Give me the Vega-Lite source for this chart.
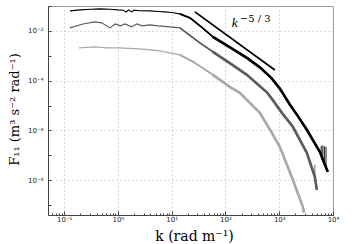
{
  "$schema": "https://vega.github.io/schema/vega-lite/v6.json",
  "width": 285,
  "height": 209,
  "autosize": {"type": "none"},
  "padding": {"left": 48, "top": 6, "right": 21, "bottom": 29},
  "background": "white",
  "config": {
    "view": {"stroke": "#9a9a9a", "strokeWidth": 1},
    "axis": {
      "labelFont": "DejaVu Sans",
      "labelFontSize": 7,
      "labelColor": "#222",
      "titleFont": "DejaVu Serif",
      "titleFontSize": 13,
      "titleFontWeight": "normal",
      "titleColor": "#000",
      "domainColor": "#444",
      "tickColor": "#444",
      "gridColor": "#b5b5b5",
      "gridDash": [1, 3],
      "gridWidth": 1
    }
  },
  "datasets": {
    "spectra": [
      {"series": "a", "k": 0.128, "F": 0.0635},
      {"series": "a", "k": 0.197, "F": 0.0697},
      {"series": "a", "k": 0.316, "F": 0.0741},
      {"series": "a", "k": 0.462, "F": 0.0766},
      {"series": "a", "k": 0.708, "F": 0.074},
      {"series": "a", "k": 1.0, "F": 0.0697},
      {"series": "a", "k": 1.26, "F": 0.068},
      {"series": "a", "k": 1.41, "F": 0.0575},
      {"series": "a", "k": 1.58, "F": 0.0697},
      {"series": "a", "k": 1.78, "F": 0.058},
      {"series": "a", "k": 2.0, "F": 0.068},
      {"series": "a", "k": 2.51, "F": 0.064},
      {"series": "a", "k": 3.94, "F": 0.0635},
      {"series": "a", "k": 5.62, "F": 0.06},
      {"series": "a", "k": 7.48, "F": 0.058},
      {"series": "a", "k": 10.0, "F": 0.055},
      {"series": "a", "k": 14.2, "F": 0.0482},
      {"series": "a", "k": 21.8, "F": 0.0333},
      {"series": "a", "k": 35.5, "F": 0.0145},
      {"series": "a", "k": 58.3, "F": 0.00574},
      {"series": "a", "k": 126, "F": 0.00207},
      {"series": "a", "k": 250, "F": 0.000824},
      {"series": "a", "k": 436, "F": 0.000342},
      {"series": "a", "k": 719, "F": 0.000126},
      {"series": "a", "k": 1026, "F": 0.000048},
      {"series": "a", "k": 1574, "F": 0.000011},
      {"series": "a", "k": 2239, "F": 0.00000368},
      {"series": "a", "k": 3258, "F": 0.00000106},
      {"series": "a", "k": 4200, "F": 0.00000042},
      {"series": "a", "k": 5689, "F": 0.000000138},
      {"series": "a", "k": 7000, "F": 0.000000044},
      {"series": "a", "k": 8000, "F": 0.0000000217},
      {"series": "b", "k": 0.128, "F": 0.0132},
      {"series": "b", "k": 0.224, "F": 0.019},
      {"series": "b", "k": 0.373, "F": 0.023},
      {"series": "b", "k": 0.5, "F": 0.021},
      {"series": "b", "k": 0.71, "F": 0.0132},
      {"series": "b", "k": 0.89, "F": 0.019},
      {"series": "b", "k": 1.12, "F": 0.0159},
      {"series": "b", "k": 1.35, "F": 0.0191},
      {"series": "b", "k": 1.78, "F": 0.0145},
      {"series": "b", "k": 2.24, "F": 0.019},
      {"series": "b", "k": 2.82, "F": 0.0159},
      {"series": "b", "k": 3.94, "F": 0.0174},
      {"series": "b", "k": 5.62, "F": 0.0159},
      {"series": "b", "k": 9.27, "F": 0.0145},
      {"series": "b", "k": 14.2, "F": 0.0132},
      {"series": "b", "k": 22.4, "F": 0.0063},
      {"series": "b", "k": 33.4, "F": 0.0033},
      {"series": "b", "k": 58.3, "F": 0.00144},
      {"series": "b", "k": 126, "F": 0.000473},
      {"series": "b", "k": 250, "F": 0.000171},
      {"series": "b", "k": 589, "F": 0.000034},
      {"series": "b", "k": 760, "F": 0.0000165},
      {"series": "b", "k": 1122, "F": 0.00000509},
      {"series": "b", "k": 1791, "F": 0.0000014},
      {"series": "b", "k": 3258, "F": 0.000000126},
      {"series": "b", "k": 4592, "F": 0.0000000137},
      {"series": "b", "k": 5000, "F": 0.0000000041},
      {"series": "c", "k": 0.188, "F": 0.00207},
      {"series": "c", "k": 0.373, "F": 0.00228},
      {"series": "c", "k": 0.63, "F": 0.00207},
      {"series": "c", "k": 1.0, "F": 0.00207},
      {"series": "c", "k": 1.58, "F": 0.00198},
      {"series": "c", "k": 2.56, "F": 0.00189},
      {"series": "c", "k": 3.98, "F": 0.00173},
      {"series": "c", "k": 6.04, "F": 0.00157},
      {"series": "c", "k": 9.27, "F": 0.00131},
      {"series": "c", "k": 14.2, "F": 0.00109},
      {"series": "c", "k": 25.1, "F": 0.000569},
      {"series": "c", "k": 58.3, "F": 0.000171},
      {"series": "c", "k": 120, "F": 0.0000564},
      {"series": "c", "k": 185, "F": 0.0000324},
      {"series": "c", "k": 436, "F": 0.00000509},
      {"series": "c", "k": 660, "F": 0.00000116},
      {"series": "c", "k": 1026, "F": 0.000000219},
      {"series": "c", "k": 1791, "F": 0.0000000104},
      {"series": "c", "k": 2748, "F": 0.000000000855},
      {"series": "c", "k": 2884, "F": 0.0000000005}
    ],
    "noise": [
      {"series": "a", "k": 6030, "lo": 0.0000001, "hi": 0.00000024},
      {"series": "a", "k": 6460, "lo": 0.000000069, "hi": 0.00000025},
      {"series": "a", "k": 6920, "lo": 0.000000048, "hi": 0.00000023},
      {"series": "a", "k": 7410, "lo": 0.000000033, "hi": 0.00000022},
      {"series": "b", "k": 4600, "lo": 0.000000014, "hi": 0.000000042}
    ],
    "ref": [
      {"k": 27, "F": 0.058},
      {"k": 828, "F": 0.00027}
    ],
    "label": [
      {"k": 131.5, "F": 0.0145, "base": "k", "sup": "−5  /  3"}
    ]
  },
  "layer": [
    {
      "data": {"name": "spectra"},
      "mark": {"type": "line", "strokeWidth": 1.1, "clip": true},
      "encoding": {
        "x": {
          "field": "k", "type": "quantitative",
          "scale": {"type": "log", "domain": [0.05, 10000], "nice": false},
          "axis": {
            "title": "k  (rad m⁻¹)",
            "titleFontSize": 14,
            "values": [0.05,0.06,0.07,0.08,0.09,0.1,0.2,0.3,0.4,0.5,0.6,0.7,0.8,0.9,1,2,3,4,5,6,7,8,9,10,20,30,40,50,60,70,80,90,100,200,300,400,500,600,700,800,900,1000,2000,3000,4000,5000,6000,7000,8000,9000,10000],
            "labelExpr": "abs(log(datum.value)/LN10 - round(log(datum.value)/LN10)) < 0.01 ? ('10' + (round(log(datum.value)/LN10) == -1 ? '⁻¹' : round(log(datum.value)/LN10) == 0 ? '⁰' : round(log(datum.value)/LN10) == 1 ? '¹' : round(log(datum.value)/LN10) == 2 ? '²' : round(log(datum.value)/LN10) == 3 ? '³' : '⁴')) : ''",
            "labelPadding": 4,
            "labelFlush": false,
            "tickSize": {"condition": {"test": "abs(log(datum.value)/LN10 - round(log(datum.value)/LN10)) < 0.01", "value": -4}, "value": -2},
            "gridOpacity": {"condition": {"test": "abs(log(datum.value)/LN10 - round(log(datum.value)/LN10)) < 0.01", "value": 1}, "value": 0},
            "titleX": 146,
            "titleY": 21,
            "titleBaseline": "middle",
            "titleAlign": "center"
          }
        },
        "y": {
          "field": "F", "type": "quantitative",
          "scale": {"type": "log", "domain": [0.0000000004, 0.1], "nice": false},
          "axis": {
            "title": "F₁₁ (m³ s⁻² rad⁻¹)",
            "values": [0.000000001,0.00000001,0.0000001,0.000001,0.00001,0.0001,0.001,0.01,0.1],
            "labelExpr": "round(log(datum.value)/LN10) == -2 ? '10⁻²' : round(log(datum.value)/LN10) == -4 ? '10⁻⁴' : round(log(datum.value)/LN10) == -6 ? '10⁻⁶' : round(log(datum.value)/LN10) == -8 ? '10⁻⁸' : ''",
            "labelPadding": 8,
            "tickSize": -3,
            "gridOpacity": {"condition": {"test": "round(log(datum.value)/LN10) % 2 == 0", "value": 1}, "value": 0},
            "titleX": -34,
            "titleY": 103,
            "titleAngle": -90,
            "titleBaseline": "middle",
            "titleAlign": "center"
          }
        },
        "detail": {"field": "series"},
        "color": {
          "field": "series", "type": "nominal",
          "scale": {"domain": ["a", "b", "c"], "range": ["#000000", "#5c5c5c", "#a9a9a9"]},
          "legend": null
        }
      }
    },
    {
      "data": {"name": "spectra"},
      "transform": [{"filter": "datum.k >= 14"}],
      "mark": {"type": "line", "strokeWidth": 1.8, "clip": true},
      "encoding": {
        "x": {"field": "k", "type": "quantitative"},
        "y": {"field": "F", "type": "quantitative"},
        "color": {"field": "series", "type": "nominal", "legend": null}
      }
    },
    {
      "data": {"name": "spectra"},
      "transform": [{"filter": "datum.k >= 55"}],
      "mark": {"type": "line", "strokeWidth": 2.6, "clip": true},
      "encoding": {
        "x": {"field": "k", "type": "quantitative"},
        "y": {"field": "F", "type": "quantitative"},
        "color": {"field": "series", "type": "nominal", "legend": null}
      }
    },
    {
      "data": {"name": "noise"},
      "mark": {"type": "rule", "strokeWidth": 0.9},
      "encoding": {
        "x": {"field": "k", "type": "quantitative"},
        "y": {"field": "lo", "type": "quantitative"},
        "y2": {"field": "hi"},
        "color": {"field": "series", "type": "nominal", "legend": null}
      }
    },
    {
      "data": {"name": "ref"},
      "mark": {"type": "line", "strokeWidth": 1.8, "color": "#000"},
      "encoding": {
        "x": {"field": "k", "type": "quantitative"},
        "y": {"field": "F", "type": "quantitative"}
      }
    },
    {
      "data": {"name": "label"},
      "mark": {"type": "text", "font": "Liberation Serif", "fontStyle": "italic", "fontSize": 13.5, "align": "left", "baseline": "alphabetic", "color": "#000"},
      "encoding": {
        "x": {"field": "k", "type": "quantitative"},
        "y": {"field": "F", "type": "quantitative"},
        "text": {"field": "base"}
      }
    },
    {
      "data": {"name": "label"},
      "mark": {"type": "text", "font": "DejaVu Serif", "fontSize": 10, "align": "left", "baseline": "alphabetic", "dx": 8, "dy": -5, "color": "#000"},
      "encoding": {
        "x": {"field": "k", "type": "quantitative"},
        "y": {"field": "F", "type": "quantitative"},
        "text": {"field": "sup"}
      }
    }
  ]
}
